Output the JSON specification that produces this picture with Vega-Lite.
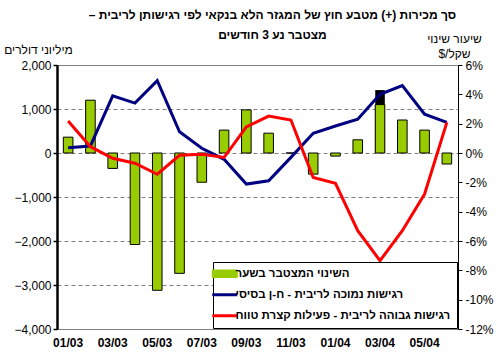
{
  "$schema": "https://vega.github.io/schema/vega-lite/v6.json",
  "width": 401,
  "height": 264,
  "autosize": {"type": "none"},
  "padding": {"left": 57, "top": 65, "right": 39, "bottom": 29},
  "background": "white",
  "config": {
    "font": "Liberation Sans",
    "view": {"stroke": "#808080", "strokeWidth": 1},
    "legend": {"strokeColor": "black", "fillColor": "white"}
  },
  "title": {
    "text": ["סך מכירות (+) מטבע חוץ של המגזר הלא בנקאי לפי רגישותן  לריבית –‏", "מצטבר נע 3 חודשים\u00A0\u00A0\u00A0\u00A0\u00A0\u00A0\u00A0\u00A0\u00A0\u00A0\u00A0\u00A0\u00A0\u00A0\u00A0\u00A0\u00A0"],
    "fontSize": 12,
    "fontWeight": "bold",
    "color": "black",
    "lineHeight": 20,
    "offset": -10,
    "dx": 15,
    "anchor": "middle"
  },
  "data": {
    "values": [
      {"month": "01/03", "change": 360, "low": 0.36, "high": 2.18},
      {"month": "02/03", "change": 1200, "low": 0.48, "high": 0.43},
      {"month": "03/03", "change": -350, "low": 3.9, "high": -0.36},
      {"month": "04/03", "change": -2080, "low": 3.4, "high": -0.7},
      {"month": "05/03", "change": -3120, "low": 4.93, "high": -1.45},
      {"month": "06/03", "change": -2735, "low": 1.45, "high": -0.16},
      {"month": "07/03", "change": -665, "low": 0.32, "high": -0.09},
      {"month": "08/03", "change": 520, "low": -0.43, "high": -0.3},
      {"month": "09/03", "change": 980, "low": -2.12, "high": 1.78},
      {"month": "10/03", "change": 450, "low": -1.89, "high": 2.52},
      {"month": "11/03", "change": 0, "low": -0.3, "high": 2.25},
      {"month": "12/03", "change": -480, "low": 1.34, "high": -1.67},
      {"month": "01/04", "change": -70, "low": 1.84, "high": -2.07},
      {"month": "02/04", "change": 300, "low": 2.3, "high": -5.3},
      {"month": "03/04", "change": 1100, "marker": 1430, "low": 4.0, "high": -7.34},
      {"month": "04/04", "change": 750, "low": 4.6, "high": -5.3},
      {"month": "05/04", "change": 520, "low": 2.64, "high": -2.8},
      {"month": "06/04", "change": -250, "low": 2.09, "high": 2.09}
    ]
  },
  "encoding": {
    "x": {
      "field": "month",
      "type": "ordinal",
      "sort": null,
      "scale": {
        "domain": ["01/03", "02/03", "03/03", "04/03", "05/03", "06/03", "07/03", "08/03", "09/03", "10/03", "11/03", "12/03", "01/04", "02/04", "03/04", "04/04", "05/04", "06/04"],
        "paddingInner": 0.57,
        "paddingOuter": 0.285
      },
      "axis": {
        "title": null,
        "values": ["01/03", "03/03", "05/03", "07/03", "09/03", "11/03", "01/04", "03/04", "05/04"],
        "labelAngle": 0,
        "labelFontWeight": "bold",
        "labelFontSize": 12,
        "labelColor": "black",
        "ticks": false,
        "domain": false,
        "labelPadding": 8
      }
    }
  },
  "layer": [
    {
      "layer": [
        {
          "mark": {"type": "bar", "color": "black"},
          "encoding": {
            "y": {"field": "marker", "type": "quantitative"}
          }
        },
        {
          "mark": {"type": "bar", "stroke": "black", "strokeWidth": 1},
          "encoding": {
            "y": {
              "field": "change",
              "type": "quantitative",
              "scale": {"domain": [-4000, 2000], "nice": false},
              "axis": {
                "title": "מיליוני דולרים",
                "titleAngle": 0,
                "titleX": -19,
                "titleY": -16,
                "titleAlign": "center",
                "titleBaseline": "middle",
                "titleFontWeight": "normal",
                "titleFontSize": 12,
                "titleColor": "black",
                "format": ",.0f",
                "values": [-4000, -3500, -3000, -2500, -2000, -1500, -1000, -500, 0, 500, 1000, 1500, 2000],
                "grid": true,
                "gridDash": [4, 3],
                "gridColor": "#808080",
                "domainColor": "black",
                "domainWidth": 2.5,
                "tickColor": "black",
                "tickWidth": 1.5,
                "tickSize": 4,
                "labelPadding": 2,
                "labelFontSize": 12,
                "labelColor": "black"
              }
            },
            "color": {
              "datum": "change",
              "type": "nominal",
              "scale": {"domain": ["change", "low", "high"], "range": ["#99CC00", "#000080", "#FF0000"]},
              "legend": {
                "orient": "bottom-right",
                "offset": 1,
                "title": null,
                "fillColor": "white",
                "strokeColor": "black",
                "padding": 6,
                "symbolSize": 625,
                "rowPadding": 8,
                "labelOffset": 5,
                "labelFontSize": 11.5,
                "labelFontWeight": "bold",
                "labelColor": "black",
                "labelLimit": 300,
                "labelExpr": "datum.value === 'change' ? 'השינוי המצטבר בשער' : datum.value === 'low' ? 'רגישות נמוכה לריבית - ח-ן בסיסי' : 'רגישות גבוהה לריבית - פעילות קצרת טווח'",
                "encode": {
                  "legend": {
                    "update": {
                      "fill": {"value": "white"},
                      "stroke": {"value": "black"},
                      "strokeWidth": {"value": 1}
                    }
                  },
                  "symbols": {
                    "update": {
                      "shape": {"signal": "datum.value === 'change' ? 'M-1,-0.3H1V0.3H-1Z' : 'stroke'"},
                      "fill": {"signal": "datum.value === 'change' ? '#99CC00' : 'transparent'"},
                      "stroke": {"signal": "datum.value === 'change' ? 'black' : datum.value === 'low' ? '#000080' : '#FF0000'"},
                      "strokeWidth": {"signal": "datum.value === 'change' ? 1 : 3"},
                      "opacity": {"value": 1}
                    }
                  }
                }
              }
            }
          }
        },
        {
          "mark": {"type": "rule", "color": "black", "strokeWidth": 3},
          "encoding": {"y": {"datum": 0}}
        }
      ]
    },
    {
      "transform": [{"fold": ["low", "high"], "as": ["series", "pct"]}],
      "mark": {"type": "line", "strokeWidth": 3},
      "encoding": {
        "y": {
          "field": "pct",
          "type": "quantitative",
          "scale": {"domain": [-12, 6], "nice": false, "zero": false},
          "axis": {
            "orient": "right",
            "values": [-12, -10, -8, -6, -4, -2, 0, 2, 4, 6],
            "labelExpr": "datum.value + '%'",
            "grid": false,
            "domainColor": "black",
            "domainWidth": 1,
            "tickColor": "black",
            "tickSize": 4,
            "labelPadding": 3,
            "labelFontSize": 12,
            "labelColor": "black",
            "title": ["שיעור שינוי", "שקל/$‏"],
            "titleAngle": 0,
            "titleX": -4,
            "titleY": -27,
            "titleAlign": "center",
            "titleBaseline": "middle",
            "titleFontWeight": "normal",
            "titleFontSize": 12,
            "titleLineHeight": 15,
            "titleColor": "black"
          }
        },
        "color": {
          "field": "series",
          "type": "nominal",
          "legend": {
            "orient": "bottom-right",
            "offset": 1,
            "title": null,
            "fillColor": "white",
            "strokeColor": "black",
            "padding": 6,
            "symbolSize": 625,
            "rowPadding": 8,
            "labelOffset": 5,
            "labelFontSize": 11.5,
            "labelFontWeight": "bold",
            "labelColor": "black",
            "labelLimit": 300,
            "labelExpr": "datum.value === 'change' ? 'השינוי המצטבר בשער' : datum.value === 'low' ? 'רגישות נמוכה לריבית - ח-ן בסיסי' : 'רגישות גבוהה לריבית - פעילות קצרת טווח'",
            "encode": {
              "legend": {
                "update": {
                  "fill": {"value": "white"},
                  "stroke": {"value": "black"},
                  "strokeWidth": {"value": 1}
                }
              },
              "symbols": {
                "update": {
                  "shape": {"signal": "datum.value === 'change' ? 'M-1,-0.3H1V0.3H-1Z' : 'stroke'"},
                  "fill": {"signal": "datum.value === 'change' ? '#99CC00' : 'transparent'"},
                  "stroke": {"signal": "datum.value === 'change' ? 'black' : datum.value === 'low' ? '#000080' : '#FF0000'"},
                  "strokeWidth": {"signal": "datum.value === 'change' ? 1 : 3"},
                  "opacity": {"value": 1}
                }
              }
            }
          }
        },
        "detail": {"field": "series"}
      }
    }
  ],
  "resolve": {"scale": {"y": "independent"}, "axis": {"y": "independent"}}
}
